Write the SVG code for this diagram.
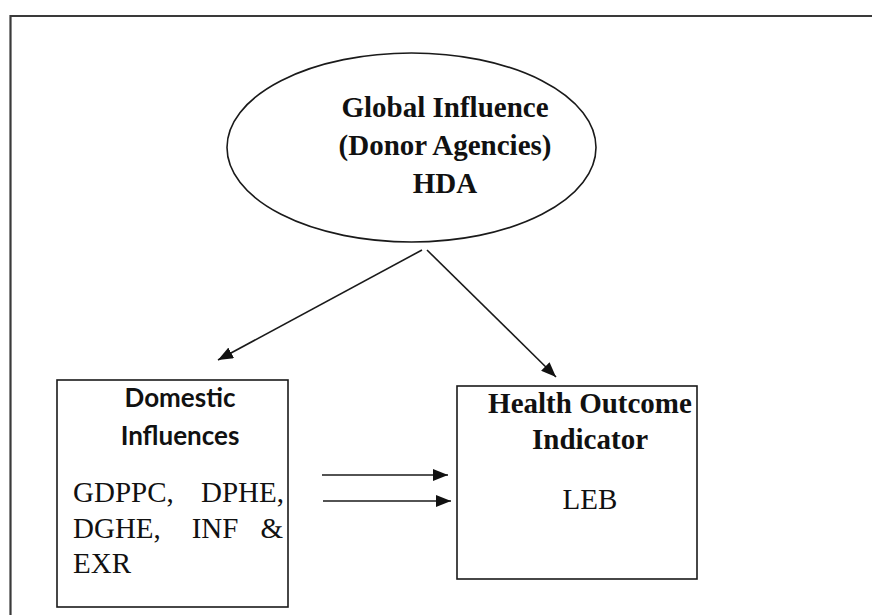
<svg xmlns="http://www.w3.org/2000/svg" width="872" height="615" viewBox="0 0 872 615">
<style>
.ln{stroke:#1a1a1a;stroke-width:1.6;fill:none}
.box{stroke:#1a1a1a;stroke-width:1.6;fill:#fff}
.sb{font-family:'Liberation Serif','DejaVu Serif',serif;font-weight:bold;font-size:29px;fill:#111}
.sr{font-family:'Liberation Serif','DejaVu Serif',serif;font-size:29px;fill:#111}
.cb{font-family:Lato,'Liberation Sans',sans-serif;font-weight:bold;font-size:26px;fill:#111}
</style>
<defs>
<marker id="ah" markerWidth="15" markerHeight="12" refX="15" refY="6" orient="auto" markerUnits="userSpaceOnUse">
<path d="M0,0 L15,6 L0,12 Z" fill="#111"/>
</marker>
</defs>
<rect width="872" height="615" fill="#fff"/>
<path d="M10.5,640 V16 H880" stroke="#3a3a3a" stroke-width="2.2" fill="none"/>
<g id="global">
<ellipse cx="411.5" cy="147.5" rx="184.5" ry="94.5" class="box"/>
<text class="sb" x="445" y="117" text-anchor="middle">Global Influence</text>
<text class="sb" x="445" y="155" text-anchor="middle">(Donor Agencies)</text>
<text class="sb" x="445" y="193" text-anchor="middle">HDA</text>
</g>
<g id="domestic">
<rect x="57" y="380" width="231" height="227" class="box"/>
<text class="cb" x="180" y="407" text-anchor="middle">Domestic</text>
<text class="cb" x="180" y="445" text-anchor="middle">Influences</text>
<text class="sr" x="73" y="502">GDPPC,</text>
<text class="sr" x="284" y="502" text-anchor="end">DPHE,</text>
<text class="sr" x="73" y="538">DGHE,</text>
<text class="sr" x="215" y="538" text-anchor="middle">INF</text>
<text class="sr" x="283" y="538" text-anchor="end">&amp;</text>
<text class="sr" x="73" y="573">EXR</text>
</g>
<g id="health">
<rect x="457" y="386" width="240" height="193" class="box"/>
<text class="sb" x="590" y="413" text-anchor="middle">Health Outcome</text>
<text class="sb" x="590" y="449" text-anchor="middle">Indicator</text>
<text class="sr" x="590" y="509" text-anchor="middle">LEB</text>
</g>
<g id="connectors">
<line x1="422" y1="250" x2="218" y2="360" class="ln" marker-end="url(#ah)"/>
<line x1="427" y1="250" x2="556" y2="377" class="ln" marker-end="url(#ah)"/>
<line x1="322" y1="475" x2="448" y2="475" class="ln" marker-end="url(#ah)"/>
<line x1="323" y1="501" x2="451" y2="501" class="ln" marker-end="url(#ah)"/>
</g>
</svg>
